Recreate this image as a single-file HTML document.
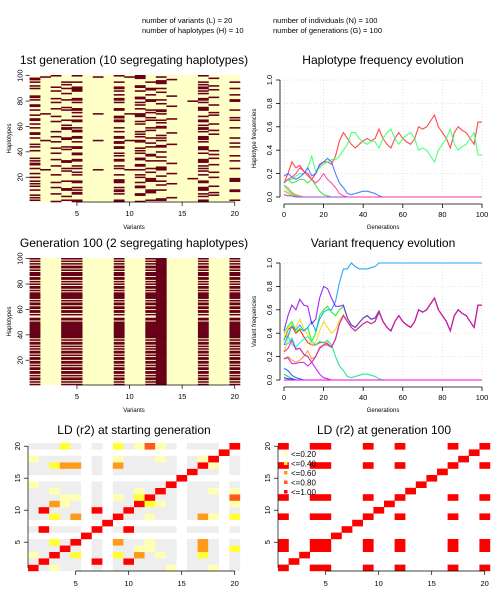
<!DOCTYPE html>
<html><head><meta charset="utf-8"><style>
html,body{margin:0;padding:0;background:#fff}
svg{display:block;font-family:"Liberation Sans",Arial,sans-serif}
</style></head><body>
<svg id="s" width="500" height="600" viewBox="0 0 500 600" xmlns="http://www.w3.org/2000/svg">
<g font-size="7.5" fill="#000">
<text x="142" y="23">number of variants (L) = 20</text>
<text x="142" y="33">number of haplotypes (H) = 10</text>
<text x="273" y="23">number of individuals (N) = 100</text>
<text x="273" y="33">number of generations (G) = 100</text>
</g>
</svg>
<script>
// ---------- data ----------
const hapPatterns = [
 [1,4,5,9,12,13,17,20],
 [1,14],
 [5,12,18],
 [1,11,18],
 [13],
 [9,12,20],
 [2,7,10,11,13],
 [3,5,9,11,17],
 [12,16,20],
 [4,17]
];
const gen1Rows = "7041937250973417058347129604731907345274397041576907431729049347015736240791347807315947207394041367";
const gen100Rows = "1010110101101101011011010110101011010111111111111101100101101101101011111010110101011011101011010101";
const gen100Haps = [4,0];
const gens = [0,2,4,6,8,10,12,14,16,18,20,22,24,26,28,30,32,34,36,38,40,42,44,46,48,50,52,54,56,58,60,62,64,66,68,70,72,74,76,78,80,82,84,86,88,90,92,94,96,98,100];
const hapFreq0 = [0.12,0.2,0.3,0.25,0.27,0.22,0.2,0.15,0.2,0.27,0.3,0.3,0.28,0.35,0.48,0.55,0.5,0.45,0.42,0.45,0.48,0.5,0.48,0.5,0.58,0.5,0.45,0.42,0.5,0.55,0.5,0.47,0.45,0.5,0.6,0.58,0.6,0.65,0.7,0.6,0.55,0.5,0.42,0.55,0.6,0.57,0.55,0.5,0.45,0.64,0.64];
const hapFreq1 = [0.1,0.08,0.04,0.02,0.01];
const hapFreq2 = [0.06,0.04,0.02,0.01];
const hapFreq3 = [0.12,0.15,0.12,0.13,0.15,0.15,0.12,0.15,0.1,0.05,0.02,0.01];
const hapFreq4 = [0.13,0.15,0.15,0.18,0.2,0.2,0.25,0.35,0.22,0.25,0.28,0.3,0.32,0.32,0.35,0.4,0.45,0.55,0.55,0.5,0.47,0.45,0.48,0.47,0.42,0.5,0.55,0.58,0.5,0.45,0.5,0.53,0.55,0.5,0.4,0.42,0.4,0.35,0.3,0.4,0.45,0.5,0.58,0.45,0.4,0.43,0.45,0.5,0.55,0.36,0.36];
const hapFreq5 = [0.1,0.06,0.03,0.01];
const hapFreq6 = [0.05,0.03,0.01];
const hapFreq7 = [0.18,0.2,0.17,0.15,0.17,0.2,0.25,0.18,0.2,0.28,0.3,0.33,0.3,0.2,0.12,0.08,0.03,0.02,0.03,0.04,0.05,0.05,0.04,0.03,0.01];
const hapFreq8 = [0.02,0.01,0.01];
const hapFreq9 = [0.12,0.15,0.17,0.2,0.25,0.22,0.18,0.15,0.12,0.15,0.2,0.15,0.12,0.08,0.03,0.01];
const hapFreqs = [hapFreq0,hapFreq1,hapFreq2,hapFreq3,hapFreq4,hapFreq5,hapFreq6,hapFreq7,hapFreq8,hapFreq9];
const hapColors = ["#FF2828","#FF9900","#FFCC00","#33DD33","#33FF66","#00DDDD","#CCCC00","#3366FF","#9933FF","#FF3399"];
const xTicksGen = [0,20,40,60,80,100];
const yTicksFreq = [0,0.2,0.4,0.6,0.8,1.0];
const xTicksVar = [5,10,15,20];
const yTicksHap = [20,40,60,80,100];
const yTicksVar = [5,10,15,20];
const ldBreaks = [0.2,0.4,0.6,0.8,1.0];
const ldLabels = ["<=0.20","<=0.40","<=0.60","<=0.80","<=1.00"];
const ldColors = ["#FFFFB2","#FFFF33","#FF9A1A","#FF5A1A","#FF0000"];

// ---------- helpers ----------
const S = document.getElementById('s');
const NS = "http://www.w3.org/2000/svg";
function mk(tag, attrs, parent){const e=document.createElementNS(NS,tag);for(const k in attrs)e.setAttribute(k,attrs[k]);(parent||S).appendChild(e);return e;}
function txt(x,y,str,size,anchor,rot,parent){const t=mk('text',{x:x,y:y,'font-size':size,'text-anchor':anchor||'middle',fill:'#000'},parent);if(rot)t.setAttribute('transform','rotate(-90 '+x+' '+y+')');t.textContent=str;return t;}
function matrixFromRows(rows, map){const m=[];for(let r=0;r<rows.length;r++){const h=map?map[+rows[r]]:+rows[r];const row=new Array(20).fill(0);hapPatterns[h].forEach(v=>row[v-1]=1);m.push(row);}return m;}
const M1 = matrixFromRows(gen1Rows);
const M100 = matrixFromRows(gen100Rows, gen100Haps);

function heatmap(title, M, y0, name){
  const g=mk('g',{});
  
  
  const x0=29.6, x1=240, y1=y0+127;
  const cw=(x1-x0)/20, ch=(y1-y0)/M.length;
  const tt=txt(134,y0-11,title,12,'middle',false,g);
  
  
  mk('rect',{x:x0,y:y0,width:x1-x0,height:y1-y0,fill:'#FFFFC8'},g);
  for(let r=0;r<M.length;r++)for(let c=0;c<20;c++)if(M[r][c]){
    const cell=mk('rect',{x:(x0+c*cw).toFixed(2),y:(y1-(r+1)*ch).toFixed(2),width:(cw+0.3).toFixed(2),height:(ch+0.3).toFixed(2),fill:'#690019'},g);
    
    
  }
  xTicksVar.forEach(v=>{const x=x0+(v-0.5)*cw;mk('line',{x1:x,x2:x,y1:y1,y2:y1+4,stroke:'#000','stroke-width':0.7},g);txt(x,y1+14,String(v),7.5,'middle',false,g);});
  mk('line',{x1:x0+(xTicksVar[0]-0.5)*cw,x2:x0+(xTicksVar[3]-0.5)*cw,y1:y1,y2:y1,stroke:'#000','stroke-width':0.7},g);
  yTicksHap.forEach(v=>{const y=y1-(v-0.5)*ch;mk('line',{x1:x0-4,x2:x0,y1:y,y2:y,stroke:'#000','stroke-width':0.7},g);txt(x0-7,y,String(v),7.5,'middle',true,g);});
  const xl=txt(134,y1+27,'Variants',6,'middle',false,g);
  
  
  const yl=txt(11,(y0+y1)/2,'Haplotypes',6,'middle',true,g);
  
  
}

function linechart(title, series, colors, y0, ylab, name){
  const g=mk('g',{});
  
  
  const gx0=284, gx1=482, gy1=y0+117, gy0=y0;
  const sx=v=>gx0+(v/100)*(gx1-gx0), sy=v=>gy1-v*(gy1-gy0);
  const tt=txt(383,y0-16,title,12,'middle',false,g);
  
  
  xTicksGen.forEach(v=>mk('line',{x1:sx(v),x2:sx(v),y1:gy0,y2:gy1,stroke:'#d8d8d8','stroke-width':0.7,'stroke-dasharray':'1,2'},g));
  yTicksFreq.forEach(v=>mk('line',{x1:gx0,x2:gx1,y1:sy(v),y2:sy(v),stroke:'#d8d8d8','stroke-width':0.7,'stroke-dasharray':'1,2'},g));
  series.forEach((s,i)=>{
    let d='';
    gens.forEach((gv,k)=>{const v=k<s.length?s[k]:0;d+=(k?'L':'M')+sx(gv).toFixed(1)+','+sy(v).toFixed(1);});
    const p=mk('path',{d:d,fill:'none',stroke:colors[i],'stroke-width':1.1,'stroke-opacity':0.85},g);
    
    
  });
  const ay=gy1+7, ax=gx0-4;
  mk('line',{x1:sx(0),x2:sx(100),y1:ay,y2:ay,stroke:'#000','stroke-width':0.8},g);
  mk('line',{x1:ax,x2:ax,y1:sy(0),y2:sy(1),stroke:'#000','stroke-width':0.8},g);
  xTicksGen.forEach(v=>{mk('line',{x1:sx(v),x2:sx(v),y1:ay,y2:ay+4,stroke:'#000','stroke-width':0.8},g);txt(sx(v),ay+13,String(v),7.5,'middle',false,g);});
  yTicksFreq.forEach(v=>{mk('line',{x1:ax-4,x2:ax,y1:sy(v),y2:sy(v),stroke:'#000','stroke-width':0.8},g);txt(ax-8,sy(v),v.toFixed(1),7.5,'middle',true,g);});
  const xl=txt(383,ay+25,'Generations',6,'middle',false,g);
  
  
  const yl=txt(256,(gy0+gy1)/2,ylab,6,'middle',true,g);
  
  
}

function ldPlot(title, M, x0, x1, y0, name, legend){
  const g=mk('g',{});
  
  
  const y1=y0+128, cw=(x1-x0)/20, ch=(y1-y0)/20, n=M.length;
  const tt=txt((x0+x1)/2,y0-9,title,12,'middle',false,g);
  
  
  const p=[];for(let c=0;c<20;c++){let s=0;for(let r=0;r<n;r++)s+=M[r][c];p.push(s/n);}
  for(let i=0;i<20;i++)for(let j=0;j<20;j++){
    let col;
    if(i===j) col=ldColors[4];
    else if(p[i]===0||p[i]===1||p[j]===0||p[j]===1) col=null;
    else{
      let pij=0;for(let r=0;r<n;r++)pij+=M[r][i]*M[r][j];pij/=n;
      const D=pij-p[i]*p[j];const r2=D*D/(p[i]*(1-p[i])*p[j]*(1-p[j]));
      if(r2<0.1) col='#EEEEEE';
      else{let b=0;while(b<4&&r2>ldBreaks[b])b++;col=ldColors[b];}
    }
    if(col){const c=mk('rect',{x:(x0+i*cw).toFixed(2),y:(y1-(j+1)*ch).toFixed(2),width:(cw+0.2).toFixed(2),height:(ch+0.2).toFixed(2),fill:col},g);
      
      }
  }
  xTicksVar.forEach(v=>{const x=x0+(v-0.5)*cw;mk('line',{x1:x,x2:x,y1:y1,y2:y1+4,stroke:'#000','stroke-width':0.7},g);txt(x,y1+15,String(v),7.5,'middle',false,g);});
  mk('line',{x1:x0+4.5*cw,x2:x0+19.5*cw,y1:y1,y2:y1,stroke:'#000','stroke-width':0.7},g);
  yTicksVar.forEach(v=>{const y=y1-(v-0.5)*ch;mk('line',{x1:x0-4,x2:x0,y1:y,y2:y,stroke:'#000','stroke-width':0.7},g);txt(x0-8,y,String(v),7.5,'middle',true,g);});
  mk('line',{x1:x0,x2:x0,y1:y1-0.5*ch,y2:y1-19.5*ch,stroke:'#000','stroke-width':0.7},g);
  if(legend){
    const lg=mk('g',{},g);
    
    
    ldLabels.forEach((l,k)=>{const y=y0+12+k*9.5;
      const e=mk('g',{},lg);
      
      
      mk('rect',{x:x0+6,y:y-3,width:3.5,height:3.5,fill:ldColors[k]},e);txt(x0+13,y+2,l,8,'start',false,e);});
  }
}

// ---------- draw ----------
heatmap('1st generation (10 segregating haplotypes)', M1, 75, 'gen1-haplotype-heatmap');
heatmap('Generation 100 (2 segregating haplotypes)', M100, 258, 'gen100-haplotype-heatmap');
linechart('Haplotype frequency evolution', hapFreqs, hapColors, 80, 'Haplotype frequencies', 'haplotype-frequency-chart');
const varFreqs=[], varColors=[];
for(let v=1;v<=20;v++){
  const s=gens.map((gv,k)=>{let f=0;hapFreqs.forEach((h,hi)=>{if(hapPatterns[hi].includes(v))f+=(k<h.length?h[k]:0);});return f;});
  varFreqs.push(s);varColors.push('hsl('+((v-1)*17)+',95%,50%)');
}
linechart('Variant frequency evolution', varFreqs, varColors, 263, 'Variant frequencies', 'variant-frequency-chart');
ldPlot('LD (r2) at starting generation', M1, 28, 240, 443, 'ld-start-heatmap', false);
ldPlot('LD (r2) at generation 100', M100, 278, 490, 443, 'ld-gen100-heatmap', true);
</script>
</body></html>
